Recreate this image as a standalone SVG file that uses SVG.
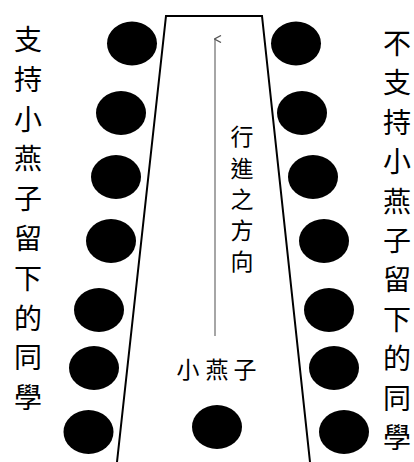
<svg xmlns="http://www.w3.org/2000/svg" width="414" height="462" viewBox="0 0 414 462">
<style>
.dot{fill:#000}
.lbl{font-family:"Noto Sans CJK TC","Noto Sans CJK SC",sans-serif;fill:#000;text-anchor:middle;dominant-baseline:central}
.side{font-size:28px}
.mid{font-size:23px}
</style>
<defs>
<marker id="ah" markerWidth="8" markerHeight="8" refX="4" refY="1" orient="auto" markerUnits="userSpaceOnUse">
<path d="M0.5,7 L4,0.5 L7.5,7" fill="none" stroke="#555" stroke-width="1.3"/>
</marker>
</defs>
<rect width="414" height="462" fill="#fff"/>
<g id="path-lane">
<path d="M117,462 L166,16 L262,16 L310,462" fill="none" stroke="#000" stroke-width="2"/>
</g>
<g id="left-dots">
<ellipse class="dot" cx="132" cy="43.5" rx="25" ry="22"/>
<ellipse class="dot" cx="121" cy="113" rx="25" ry="22"/>
<ellipse class="dot" cx="116" cy="177" rx="25" ry="22"/>
<ellipse class="dot" cx="111" cy="241" rx="25" ry="22"/>
<ellipse class="dot" cx="99" cy="310" rx="25" ry="22"/>
<ellipse class="dot" cx="94" cy="368" rx="25" ry="22"/>
<ellipse class="dot" cx="88.5" cy="432" rx="25" ry="22"/>
</g>
<g id="right-dots">
<ellipse class="dot" cx="296" cy="43.5" rx="25" ry="22"/>
<ellipse class="dot" cx="302" cy="113" rx="25" ry="22"/>
<ellipse class="dot" cx="313" cy="177" rx="25" ry="22"/>
<ellipse class="dot" cx="324" cy="241" rx="25" ry="22"/>
<ellipse class="dot" cx="329" cy="310" rx="25" ry="22"/>
<ellipse class="dot" cx="334" cy="368" rx="25" ry="22"/>
<ellipse class="dot" cx="344" cy="432" rx="25" ry="22"/>
</g>
<g id="swallow">
<ellipse class="dot" cx="217" cy="427" rx="25" ry="22"/>
<text class="lbl mid" x="188 217 245" y="368">小燕子</text>
</g>
<g id="connectors">
<line x1="215" y1="336" x2="215" y2="39" stroke="#888" stroke-width="1.5" marker-end="url(#ah)"/>
</g>
<g id="direction-label">
<text class="lbl mid" x="242 242 242 242 242" y="135 166.5 197.5 229 260">行進之方向</text>
</g>
<g id="left-label">
<text class="lbl side" x="28 28 28 28 28 28 28 28 28 28" y="38 77.8 117.6 157.4 197.2 237 276.8 316.6 356.4 396.2">支持小燕子留下的同學</text>
</g>
<g id="right-label">
<text class="lbl side" x="397 397 397 397 397 397 397 397 397 397 397" y="42 81.4 120.8 160.2 199.6 239 278.4 317.8 357.2 396.6 436">不支持小燕子留下的同學</text>
</g>
</svg>
